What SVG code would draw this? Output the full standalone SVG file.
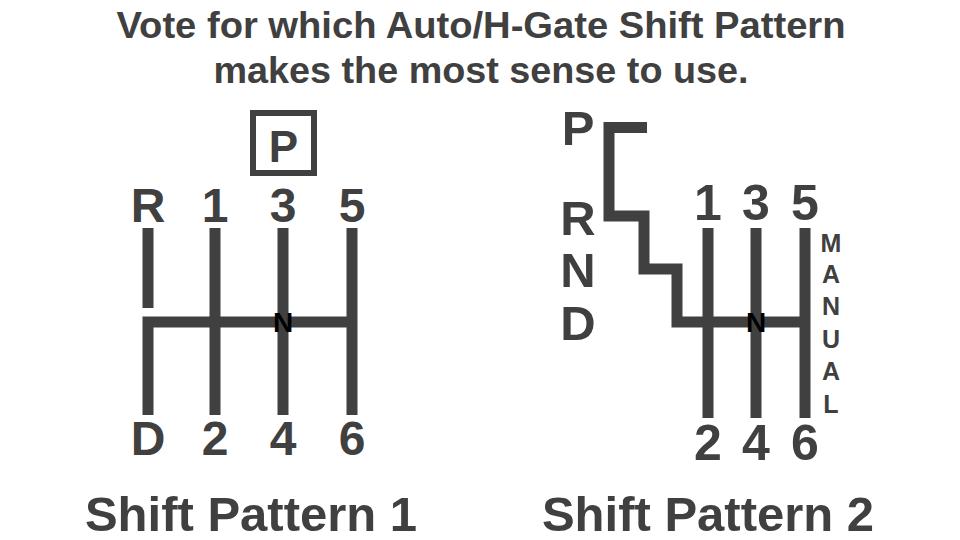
<svg xmlns="http://www.w3.org/2000/svg" width="960" height="540" viewBox="0 0 960 540">
<style>
.ln{stroke:#404040;stroke-width:11;fill:none;stroke-linecap:butt;stroke-linejoin:miter}
.t{font-family:"Liberation Sans",Arial,sans-serif;font-weight:bold;fill:#404040;text-anchor:middle}
.title{font-family:"Liberation Sans Narrow","Arial Narrow","Liberation Sans",sans-serif;font-weight:bold;fill:#404040;font-size:37px;text-anchor:middle}
.n{font-family:"Liberation Sans",Arial,sans-serif;font-weight:bold;fill:#000;font-size:28px;text-anchor:middle}
</style>
<rect width="960" height="540" fill="#fff"/>
<g id="title">
<text class="title" x="481" y="38" textLength="729" lengthAdjust="spacingAndGlyphs">Vote for which Auto/H-Gate Shift Pattern</text>
<text class="title" x="481" y="83" textLength="535" lengthAdjust="spacingAndGlyphs">makes the most sense to use.</text>
</g>
<g id="connectors">
<path class="ln" d="M148 228V308"/>
<path class="ln" d="M148 415V322H352"/>
<path class="ln" d="M215 228V415"/>
<path class="ln" d="M283 228V415"/>
<path class="ln" d="M352 228V415"/>
<path class="ln" d="M647 127.5H609V216H644V269H677V322H805"/>
<path class="ln" d="M708 228V418"/>
<path class="ln" d="M756 228V418"/>
<path class="ln" d="M805 228V418"/>
</g>
<g id="pattern1">
<g id="p1-park"><rect x="253" y="113" width="61" height="60" fill="none" stroke="#404040" stroke-width="6"/><text class="t" x="283.5" y="162" font-size="44">P</text></g>
<g id="p1-R"><text class="t" x="148" y="222" font-size="48">R</text></g>
<g id="p1-1"><text class="t" x="215" y="222" font-size="48">1</text></g>
<g id="p1-3"><text class="t" x="283" y="222" font-size="48">3</text></g>
<g id="p1-5"><text class="t" x="352" y="222" font-size="48">5</text></g>
<g id="p1-D"><text class="t" x="148" y="455" font-size="48">D</text></g>
<g id="p1-2"><text class="t" x="215" y="455" font-size="48">2</text></g>
<g id="p1-4"><text class="t" x="283" y="455" font-size="48">4</text></g>
<g id="p1-6"><text class="t" x="352" y="455" font-size="48">6</text></g>
<g id="p1-N"><text class="n" x="283" y="332">N</text></g>
<g id="p1-label"><text class="t" x="251" y="531" font-size="49">Shift Pattern 1</text></g>
</g>
<g id="pattern2">
<g id="p2-P"><text class="t" x="578" y="145" font-size="49">P</text></g>
<g id="p2-R"><text class="t" x="578" y="235" font-size="49">R</text></g>
<g id="p2-N2"><text class="t" x="578" y="287" font-size="49">N</text></g>
<g id="p2-D"><text class="t" x="578" y="340" font-size="49">D</text></g>
<g id="p2-1"><text class="t" x="708" y="220" font-size="50">1</text></g>
<g id="p2-3"><text class="t" x="756" y="220" font-size="50">3</text></g>
<g id="p2-5"><text class="t" x="805" y="220" font-size="50">5</text></g>
<g id="p2-2"><text class="t" x="708" y="460" font-size="50">2</text></g>
<g id="p2-4"><text class="t" x="756" y="460" font-size="50">4</text></g>
<g id="p2-6"><text class="t" x="805" y="460" font-size="50">6</text></g>
<g id="p2-N"><text class="n" x="756" y="332">N</text></g>
<g id="p2-manual">
<text class="t" x="831" y="252" font-size="25">M</text>
<text class="t" x="831" y="283" font-size="25">A</text>
<text class="t" x="831" y="315" font-size="25">N</text>
<text class="t" x="831" y="348" font-size="25">U</text>
<text class="t" x="831" y="380" font-size="25">A</text>
<text class="t" x="831" y="413" font-size="25">L</text>
</g>
<g id="p2-label"><text class="t" x="708" y="531" font-size="49">Shift Pattern 2</text></g>
</g>
</svg>
